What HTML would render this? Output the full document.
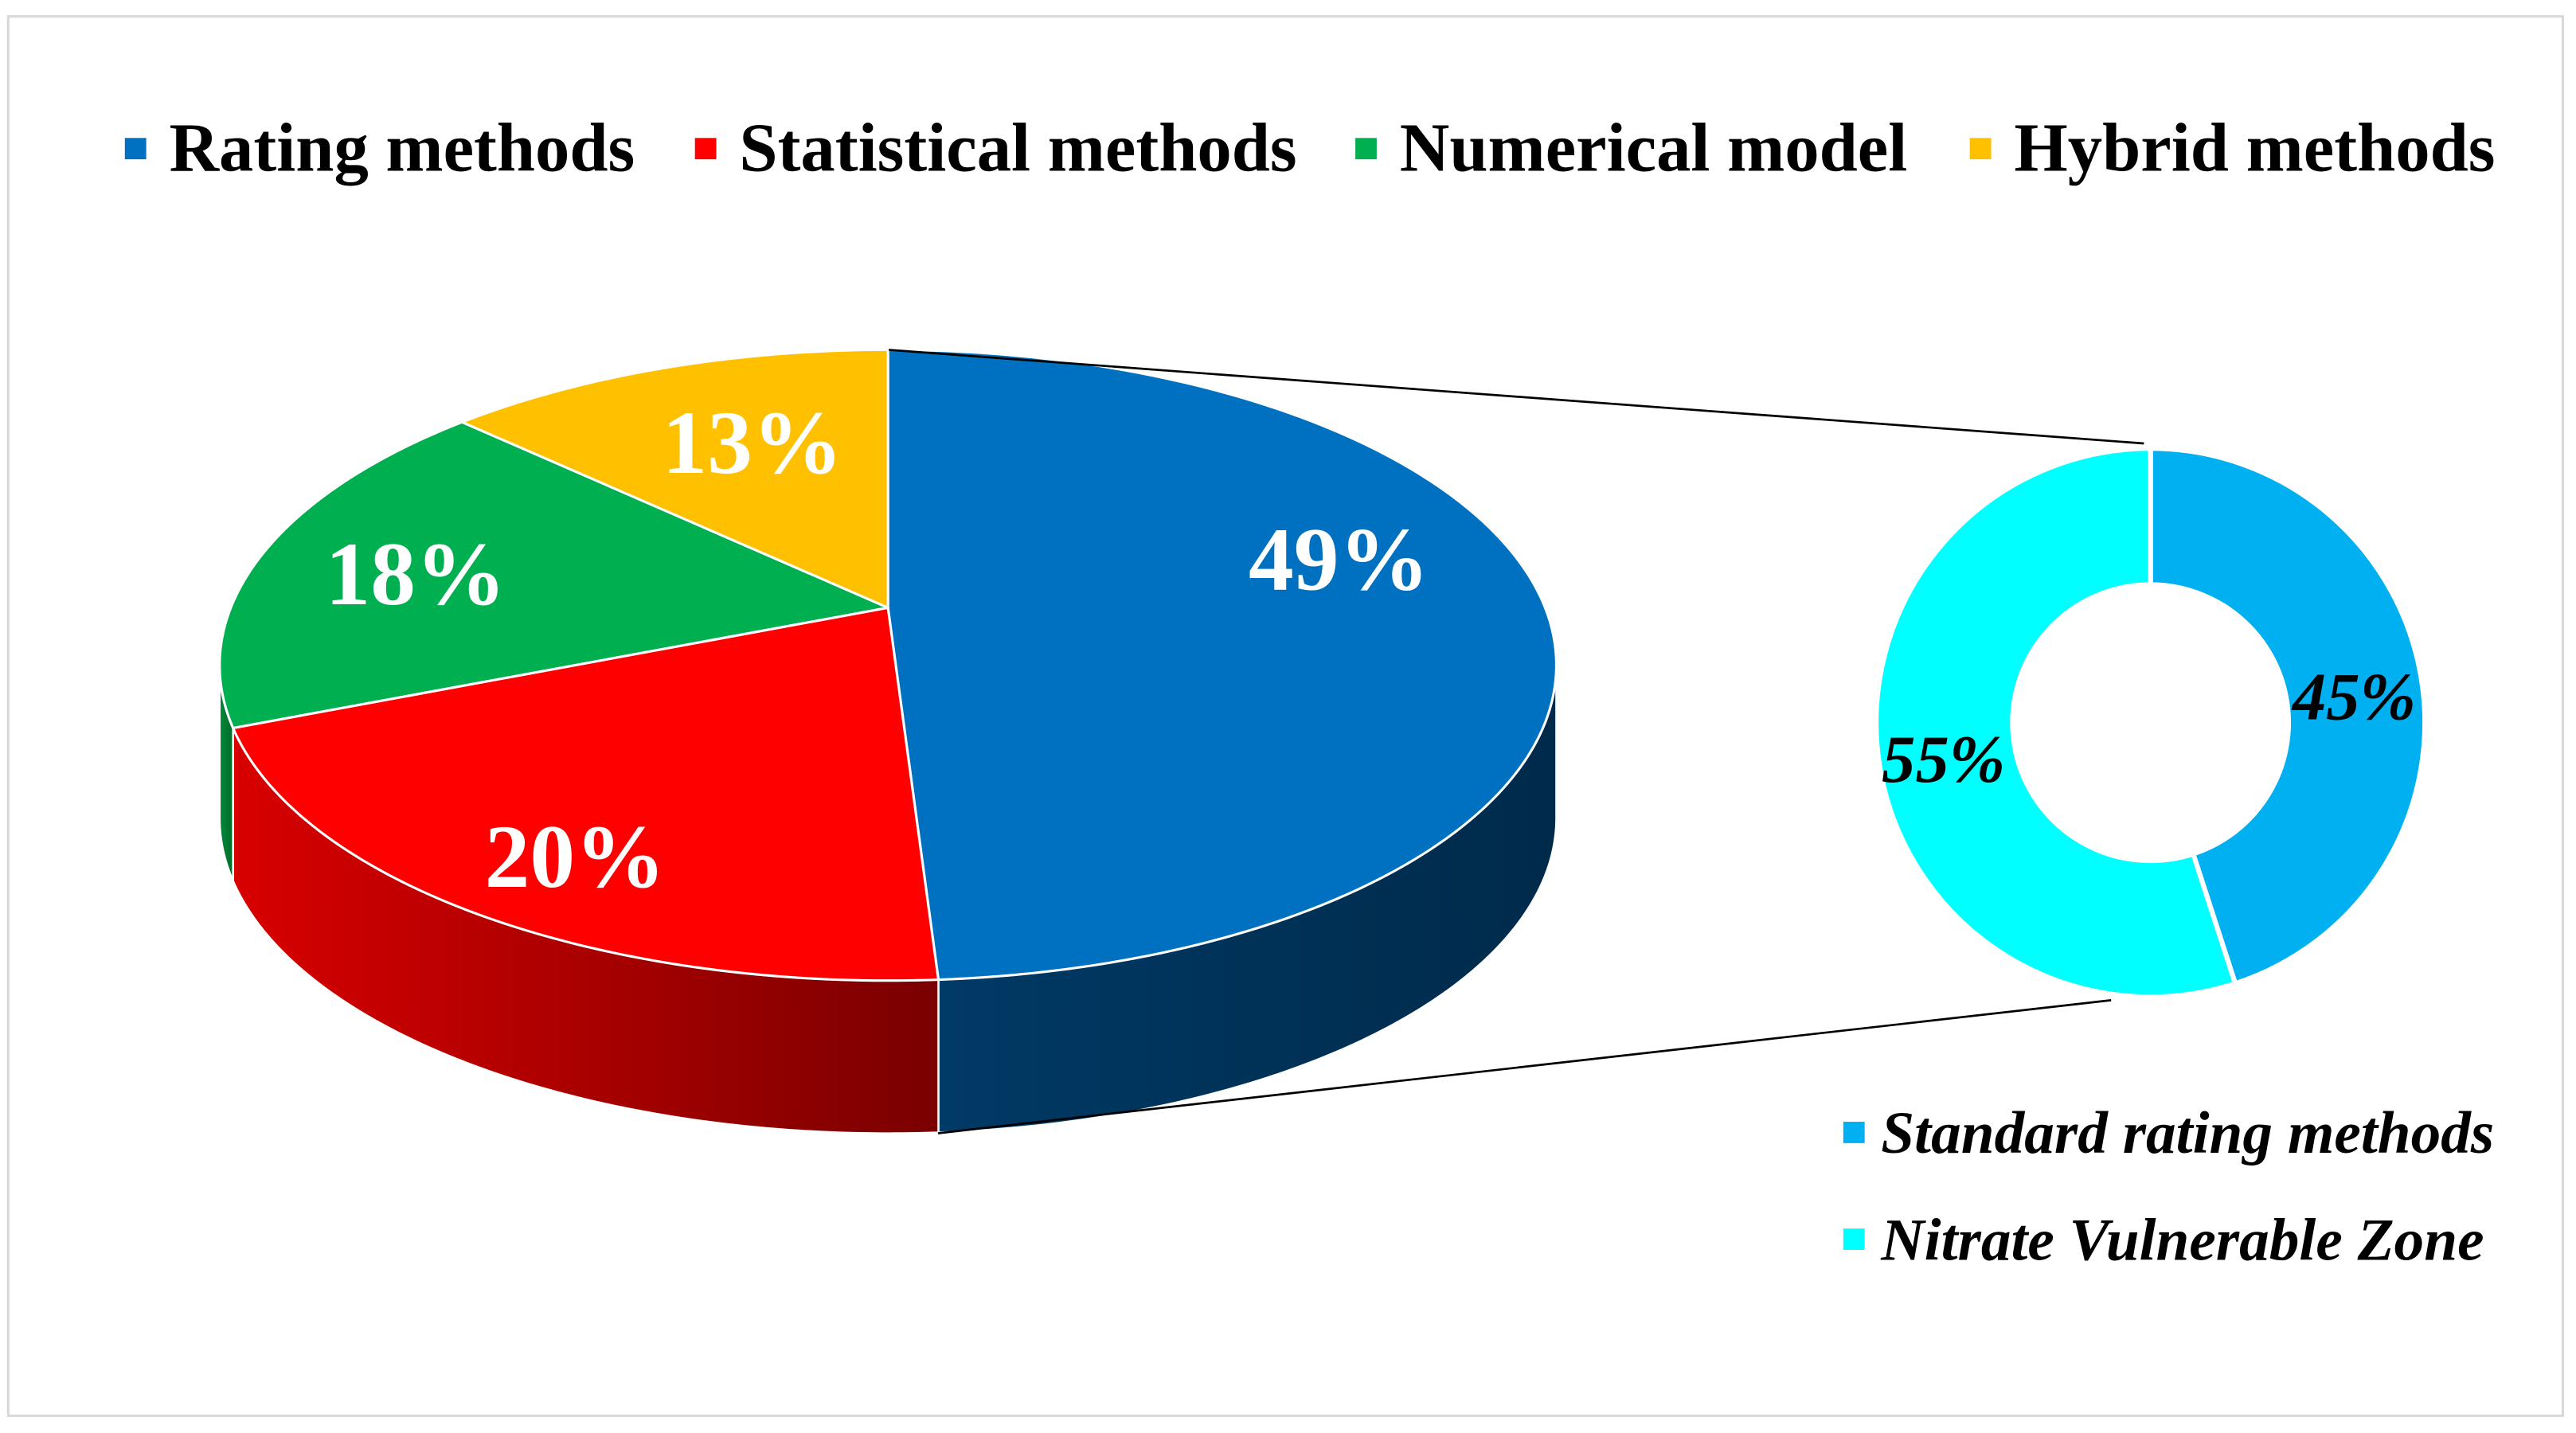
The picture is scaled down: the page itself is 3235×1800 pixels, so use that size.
<!DOCTYPE html>
<html><head><meta charset="utf-8">
<style>
html,body{margin:0;padding:0;background:#fff;}
svg{display:block;}
</style></head>
<body>
<svg id="chart" width="3235" height="1800" viewBox="0 0 1568 872.5" preserveAspectRatio="none" xmlns="http://www.w3.org/2000/svg" font-family="'Liberation Serif', serif">
<defs>
<linearGradient id="redSide" x1="0" y1="0" x2="1" y2="0">
<stop offset="0" stop-color="#d80000"/><stop offset="1" stop-color="#7a0000"/>
</linearGradient>
<linearGradient id="blueSide" x1="0" y1="0" x2="1" y2="0">
<stop offset="0" stop-color="#003a66"/><stop offset="1" stop-color="#002a4a"/>
</linearGradient>
<linearGradient id="greenSide" x1="0" y1="0" x2="1" y2="0">
<stop offset="0" stop-color="#008a3a"/><stop offset="1" stop-color="#006a2a"/>
</linearGradient>
</defs>
<rect x="5" y="10" width="1555" height="852" fill="#fff" stroke="#d9d9d9" stroke-width="1.5"/>
<g id="legend" font-weight="bold" font-size="42" fill="#000"></g>
<g id="sides"></g>
<g id="tops"></g>
<g id="connectors"></g>
<g id="donut"></g>
<g id="labels"></g>
<g id="legend2" font-weight="bold" font-style="italic" font-size="36.5" fill="#000"></g>
</svg>
<script>
const pieCategories = ["Rating methods","Statistical methods","Numerical model","Hybrid methods"];
const pieValues = [49, 20, 18, 13];
const pieColors = ["#0070c0","#ff0000","#00b050","#ffc000"];
const pieSideFills = ["url(#blueSide)","url(#redSide)","url(#greenSide)","#b08000"];
const donutCategories = ["Standard rating methods","Nitrate Vulnerable Zone"];
const donutValues = [45, 55];
const donutColors = ["#00b0f0","#00ffff"];

const NS="http://www.w3.org/2000/svg";
function mk(tag,attrs,parent){const e=document.createElementNS(NS,tag);for(const k in attrs)e.setAttribute(k,attrs[k]);if(parent)parent.appendChild(e);return e;}

// perspective geometry
const px=540.5, py=370, A=118.2, C=-0.1823, K=400, depth=93;
function pt(deg,dy){const r=deg*Math.PI/180;const u=Math.sin(r), v=-Math.cos(r);const w=1+C*v;return [px+K*u/w, (A*v+py)/w+(dy||0)];}
function arcPts(a,b,dy){const n=Math.max(2,Math.ceil((b-a)*2));const out=[];for(let i=0;i<=n;i++){out.push(pt(a+(b-a)*i/n,dy));}return out;}
const total=pieValues.reduce((a,b)=>a+b,0);
const angles=[];let acc=0;
pieValues.forEach(v=>{angles.push([acc/total*360,(acc+v)/total*360]);acc+=v;});
// silhouette extremes
let tR=90,tL=270,mx=-1e9,mn=1e9;
for(let t=0;t<360;t+=0.25){const p=pt(t);if(p[0]>mx){mx=p[0];tR=t;}if(p[0]<mn){mn=p[0];tL=t;}}

// legend
const lg=document.getElementById('legend');
const legX=[76,423,825,1199];
pieCategories.forEach((c,i)=>{
  const sq=mk('rect',{x:legX[i],y:84,width:13,height:13,fill:pieColors[i]},lg);
  
  
  const t=mk('text',{x:legX[i]+27,y:104},lg);t.textContent=c;
  
  
});

// sides
const sides=document.getElementById('sides');
angles.forEach(([a,b],i)=>{
  const s=Math.max(a,tR), e=Math.min(b,tL);
  if(e<=s) return;
  const top=arcPts(s,e,0), bot=arcPts(s,e,depth).reverse();
  const d='M'+top.map(p=>p.join(',')).join(' L')+' L'+bot.map(p=>p.join(',')).join(' L')+' Z';
  const p=mk('path',{d:d,fill:pieSideFills[i],stroke:'#fff','stroke-width':1.2},sides);
  
  
});
// tops
const tops=document.getElementById('tops');
angles.forEach(([a,b],i)=>{
  const pts=arcPts(a,b,0);
  const d=`M${px},${py} L`+pts.map(p=>p.join(',')).join(' L')+' Z';
  const p=mk('path',{d:d,fill:pieColors[i],stroke:'#fff','stroke-width':1.5,'stroke-linejoin':'round'},tops);
  
  
});

// donut
const dcx=1309, dcy=440, R=167, r=84;
const dn=document.getElementById('donut');
const dtotal=donutValues.reduce((a,b)=>a+b,0);
let dacc=0;
donutValues.forEach((v,i)=>{
  const a=dacc/dtotal*2*Math.PI, b=(dacc+v)/dtotal*2*Math.PI; dacc+=v;
  const P=(ang,rad)=>[dcx+rad*Math.sin(ang), dcy-rad*Math.cos(ang)];
  const large=(b-a)>Math.PI?1:0;
  const d=`M${P(a,R)} A${R} ${R} 0 ${large} 1 ${P(b,R)} L${P(b,r)} A${r} ${r} 0 ${large} 0 ${P(a,r)} Z`;
  const p=mk('path',{d:d,fill:donutColors[i],stroke:'#fff','stroke-width':3},dn);
  
  
});

// connectors
const cn=document.getElementById('connectors');
const l1=mk('line',{x1:541,y1:213,x2:1305,y2:270,stroke:'#000','stroke-width':1.3},cn);


const l2=mk('line',{x1:571,y1:690,x2:1285,y2:609,stroke:'#000','stroke-width':1.3},cn);



// labels
const lb=document.getElementById('labels');
const pieLabelPos=[[815,359],[350,540],[253,368],[458,288]];
pieValues.forEach((v,i)=>{
  const t=mk('text',{x:pieLabelPos[i][0],y:pieLabelPos[i][1],'text-anchor':'middle','font-size':55,'font-weight':'bold',fill:'#fff'},lb);
  t.textContent=v+'%';
  
  
});
const donutLabelPos=[[1433,438],[1183,476]];
donutValues.forEach((v,i)=>{
  const t=mk('text',{x:donutLabelPos[i][0],y:donutLabelPos[i][1],'text-anchor':'middle','font-size':41,'font-weight':'bold','font-style':'italic',fill:'#000'},lb);
  t.textContent=v+'%';
  
  
});

// secondary legend
const lg2=document.getElementById('legend2');
const leg2Y=[690,755];
donutCategories.forEach((c,i)=>{
  const sq=mk('rect',{x:1122,y:leg2Y[i]-7,width:13,height:13,fill:donutColors[i]},lg2);
  
  
  const t=mk('text',{x:1145,y:leg2Y[i]+12},lg2);t.textContent=c;
  
  
});
</script>
</body></html>
